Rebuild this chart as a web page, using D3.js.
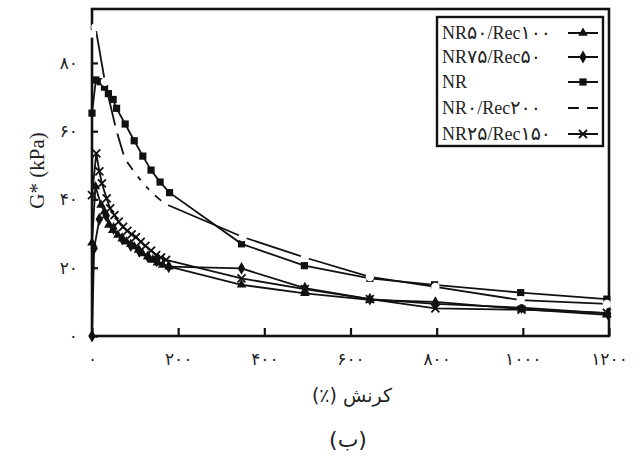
<!DOCTYPE html>
<html>
<head>
<meta charset="utf-8">
<script src="https://cdn.jsdelivr.net/npm/d3@7"></script>
<style>
  body { margin: 0; background: #fff; }
  .axis text { font-family: "DejaVu Sans", sans-serif; font-size: 17px; fill: #222; }
  .lbl { font-family: "Liberation Serif", "DejaVu Serif", serif; fill: #222; }
</style>
</head>
<body>
<div class="chart"></div>
<script>
// strain (%) and G* (kPa) per compound
var nrStrain = [0, 9, 19, 29, 38, 49, 57, 77, 98, 118, 137, 158, 180, 347, 493, 645, 795, 995, 1195];
var nrG      = [65.3, 75, 74.5, 72.9, 71, 69.3, 66.7, 62.1, 57.2, 52.7, 48.6, 45.1, 42, 27, 20.6, 16.9, 15, 12.7, 10.8];

var n0Strain = [0, 8, 30, 56, 76, 100, 119, 139, 168, 350, 494, 645, 797, 995, 1195];
var n0G      = [88.6, 90.5, 74.5, 60.5, 52, 47.7, 44.7, 42, 38.8, 29, 23, 17.3, 14.4, 10.5, 9.4];

var n50Strain = [0, 8, 21, 29, 39, 48, 60, 70, 80, 90, 98, 108, 117, 129, 141, 152, 164, 179, 347, 494, 645, 797, 997, 1195];
var n50G      = [27.3, 43.8, 38.4, 36.4, 32.5, 31, 29.6, 28.5, 27.6, 26.9, 26.2, 25.2, 24.2, 23.2, 22.3, 21.5, 20.8, 20.3, 15, 12.5, 10.6, 10, 7.9, 6.2];

var n25Strain = [0, 10, 17, 23, 34, 42, 52, 62, 72, 82, 92, 102, 113, 124, 137, 149, 160, 172, 347, 494, 645, 797, 997, 1195];
var n25G      = [41.3, 53.5, 48.2, 44.7, 40.3, 37.4, 35.4, 33.5, 32, 30.8, 29.8, 29, 27.6, 26.4, 25, 23.7, 23, 22.3, 16.9, 13.7, 10.8, 8.1, 7.7, 6.8];

var n75Strain = [0, 5, 17, 33, 50, 70, 90, 110, 130, 150, 178, 347, 494, 645, 797, 997, 1197];
var n75G      = [0, 25.7, 34.2, 35.2, 31.5, 28.5, 26.5, 24.8, 23.2, 22, 20.3, 19.8, 14, 10.8, 9.4, 8.3, 6.6];

var xTicks = [0, 200, 400, 600, 800, 1000, 1200];
var yTicks = [0, 20, 40, 60, 80];

var seriesNames = ["NR۵۰/Rec۱۰۰", "NR۷۵/Rec۵۰", "NR", "NR۰/Rec۲۰۰", "NR۲۵/Rec۱۵۰"];

var margin = ({top: 9, right: 34, bottom: 122, left: 92});
var width = 643 - margin.left - margin.right,
    height = 458 - margin.top - margin.bottom;

var svg = d3.select(".chart").append("svg")
    .attr("width", 643)
    .attr("height", 458)
    .append("g")
    .attr("transform", "translate(" + margin.left + "," + margin.top + ")");

const xScale = d3.scaleLinear().domain([0, 1200]).range([0, width]);
const yScale = d3.scaleLinear().domain([0, 95.8]).range([height, 0]);

function fa(n) {
    return String(n).replace(/\d/g, c => "۰۱۲۳۴۵۶۷۸۹"[c]);
}

const xAxisGroup = svg.append("g")
    .attr("class", "axis x-axis")
    .attr("transform", `translate(0, ${height})`)
    .call(d3.axisBottom(xScale).tickValues(xTicks).tickSize(-8).tickPadding(17).tickFormat(fa));

const yAxisGroup = svg.append("g")
    .attr("class", "axis y-axis")
    .call(d3.axisLeft(yScale).tickValues(yTicks).tickSize(-6).tickPadding(14).tickFormat(fa));

svg.selectAll(".axis .domain").remove();
svg.selectAll(".axis .tick line").attr("stroke", "#111").attr("stroke-width", 2.2);

// frame
svg.append("rect")
    .attr("width", width)
    .attr("height", height)
    .attr("fill", "none")
    .attr("stroke", "#111")
    .attr("stroke-width", 2.6);

const line = d3.line()
    .x(d => xScale(d[0]))
    .y(d => yScale(d[1]));

function zip(a, b) { return a.map((v, i) => [v, b[i]]); }

const series = [
    {name: seriesNames[0], pts: zip(n50Strain, n50G), sym: d3.symbolTriangle, size: 40},
    {name: seriesNames[1], pts: zip(n75Strain, n75G), sym: d3.symbolDiamond, size: 48},
    {name: seriesNames[2], pts: zip(nrStrain, nrG), sym: d3.symbolSquare, size: 52},
    {name: seriesNames[3], pts: zip(n0Strain, n0G), sym: "white", size: 0},
    {name: seriesNames[4], pts: zip(n25Strain, n25G), sym: "x", size: 0}
];

function marker(g, s) {
    if (s.sym === "white") {
        g.append("circle").attr("r", 4.2).attr("fill", "#fff");
    } else if (s.sym === "x") {
        g.append("path")
            .attr("d", "M-4,-4L4,4M-4,4L4,-4")
            .attr("stroke", "#111")
            .attr("stroke-width", 1.8)
            .attr("fill", "none");
    } else {
        g.append("path")
            .attr("d", d3.symbol().type(s.sym).size(s.size))
            .attr("fill", "#111");
    }
}

series.forEach(s => {
    svg.append("path")
        .datum(s.pts)
        .attr("fill", "none")
        .attr("stroke", "#111")
        .attr("stroke-width", 1.8)
        .attr("d", line);

    svg.append("g")
        .selectAll("g")
        .data(s.pts)
        .enter()
        .append("g")
        .attr("transform", d => `translate(${xScale(d[0])},${yScale(d[1])})`)
        .each(function() { marker(d3.select(this), s); });
});

// legend
const legend = svg.append("g")
    .attr("transform", "translate(" + (437 - margin.left) + "," + (17 - margin.top) + ")");

legend.append("rect")
    .attr("width", 166)
    .attr("height", 129)
    .attr("fill", "#fff")
    .attr("stroke", "#111")
    .attr("stroke-width", 2.4);

// latin parts in serif, persian digit runs a bit larger
function richLabel(text, str) {
    str.split(/([۰-۹]+)/).filter(p => p.length).forEach(p => {
        const digits = /[۰-۹]/.test(p);
        text.append("tspan")
            .style("font-family", digits ? "'DejaVu Sans', sans-serif" : null)
            .style("font-size", digits ? "19px" : null)
            .text(p);
    });
}

const rowY = [16, 40, 65, 91, 117];
series.forEach((s, i) => {
    const row = legend.append("g").attr("transform", `translate(0, ${rowY[i]})`);
    row.append("text")
        .attr("class", "lbl")
        .attr("x", 5)
        .attr("y", 6)
        .style("font-size", "18px")
        .call(richLabel, s.name);
    row.append("line")
        .attr("x1", 131).attr("x2", 161)
        .attr("stroke", "#111")
        .attr("stroke-width", 2);
    marker(row.append("g").attr("transform", "translate(146,0)"), s);
});

svg.append("text")
    .attr("class", "lbl")
    .attr("transform", `translate(-48, ${height / 2 - 2}) rotate(-90)`)
    .attr("text-anchor", "middle")
    .style("font-size", "21px")
    .text("G* (kPa)");

svg.append("text")
    .attr("class", "lbl")
    .attr("x", 352 - margin.left)
    .attr("y", 402 - margin.top)
    .attr("text-anchor", "middle")
    .attr("direction", "rtl")
    .style("font-family", "'DejaVu Sans', sans-serif")
    .style("font-size", "19px")
    .text("کرنش (٪)");

svg.append("text")
    .attr("class", "lbl")
    .attr("x", 348 - margin.left)
    .attr("y", 447 - margin.top)
    .attr("text-anchor", "middle")
    .attr("direction", "rtl")
    .style("font-family", "'DejaVu Sans', sans-serif")
    .style("font-size", "22px")
    .text("(ب)");
</script>
</body>
</html>
